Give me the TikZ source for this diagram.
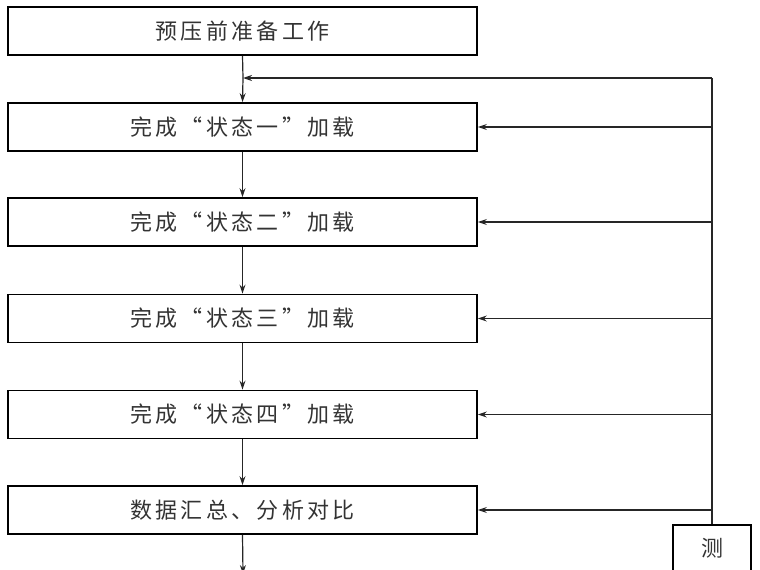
\documentclass[tikz,border=0pt]{standalone}
\usepackage{fontspec}
\newfontfamily\cjk[LetterSpace=15]{Noto Sans CJK SC}
\usetikzlibrary{arrows.meta}
\begin{document}
\begin{tikzpicture}[x=1pt,y=-1pt,
  stepbox/.style={draw=black,line width=1.8pt,minimum width=469pt,minimum height=48pt,inner sep=0pt,font=\cjk\fontsize{22pt}{24pt}\selectfont,text=black!80},
  conn/.style={line width=1.2pt,draw=black!85,-{Stealth[length=9pt,width=6pt,inset=3pt]}},
  plain/.style={line width=1.4pt,draw=black!85}]
\useasboundingbox (0,0) rectangle (760,570);
\clip (0,0) rectangle (760,570);
\node[stepbox] (b0) at (242.5,31) {预压前准备工作};
\node[stepbox] (b1) at (242.5,127) {完成“状态一”加载};
\node[stepbox] (b2) at (242.5,222) {完成“状态二”加载};
\node[stepbox] (b3) at (242.5,318.5) {完成“状态三”加载};
\node[stepbox] (b4) at (242.5,414.5) {完成“状态四”加载};
\node[stepbox] (b5) at (242.5,510) {数据汇总、分析对比};
\node[draw=black,line width=1.8pt,minimum width=78pt,minimum height=100pt,anchor=north,inner sep=0pt] (m) at (712,524) {};
\node[font=\cjk\fontsize{22pt}{24pt}\selectfont,text=black!80] (mt) at (712,548) {测};
\coordinate (top) at (712,78);
\coordinate (join) at (243,78);
\draw[plain] (m.north) -- (top);
\draw[conn] (top) -- (join);
\draw[line width=1.2pt,draw=black!85] (b0.south) -- (join);
\draw[conn] (join) -- (b1.north);
\draw[conn] (b1.south) -- (b2.north);
\draw[conn] (b2.south) -- (b3.north);
\draw[conn] (b3.south) -- (b4.north);
\draw[conn] (b4.south) -- (b5.north);
\draw[conn] (b5.south) -- (243,574);
\foreach \b in {b1,b2,b3,b4,b5}{
  \draw[conn] (m.north |- \b.east) -- (\b.east);
}
\end{tikzpicture}
\end{document}
